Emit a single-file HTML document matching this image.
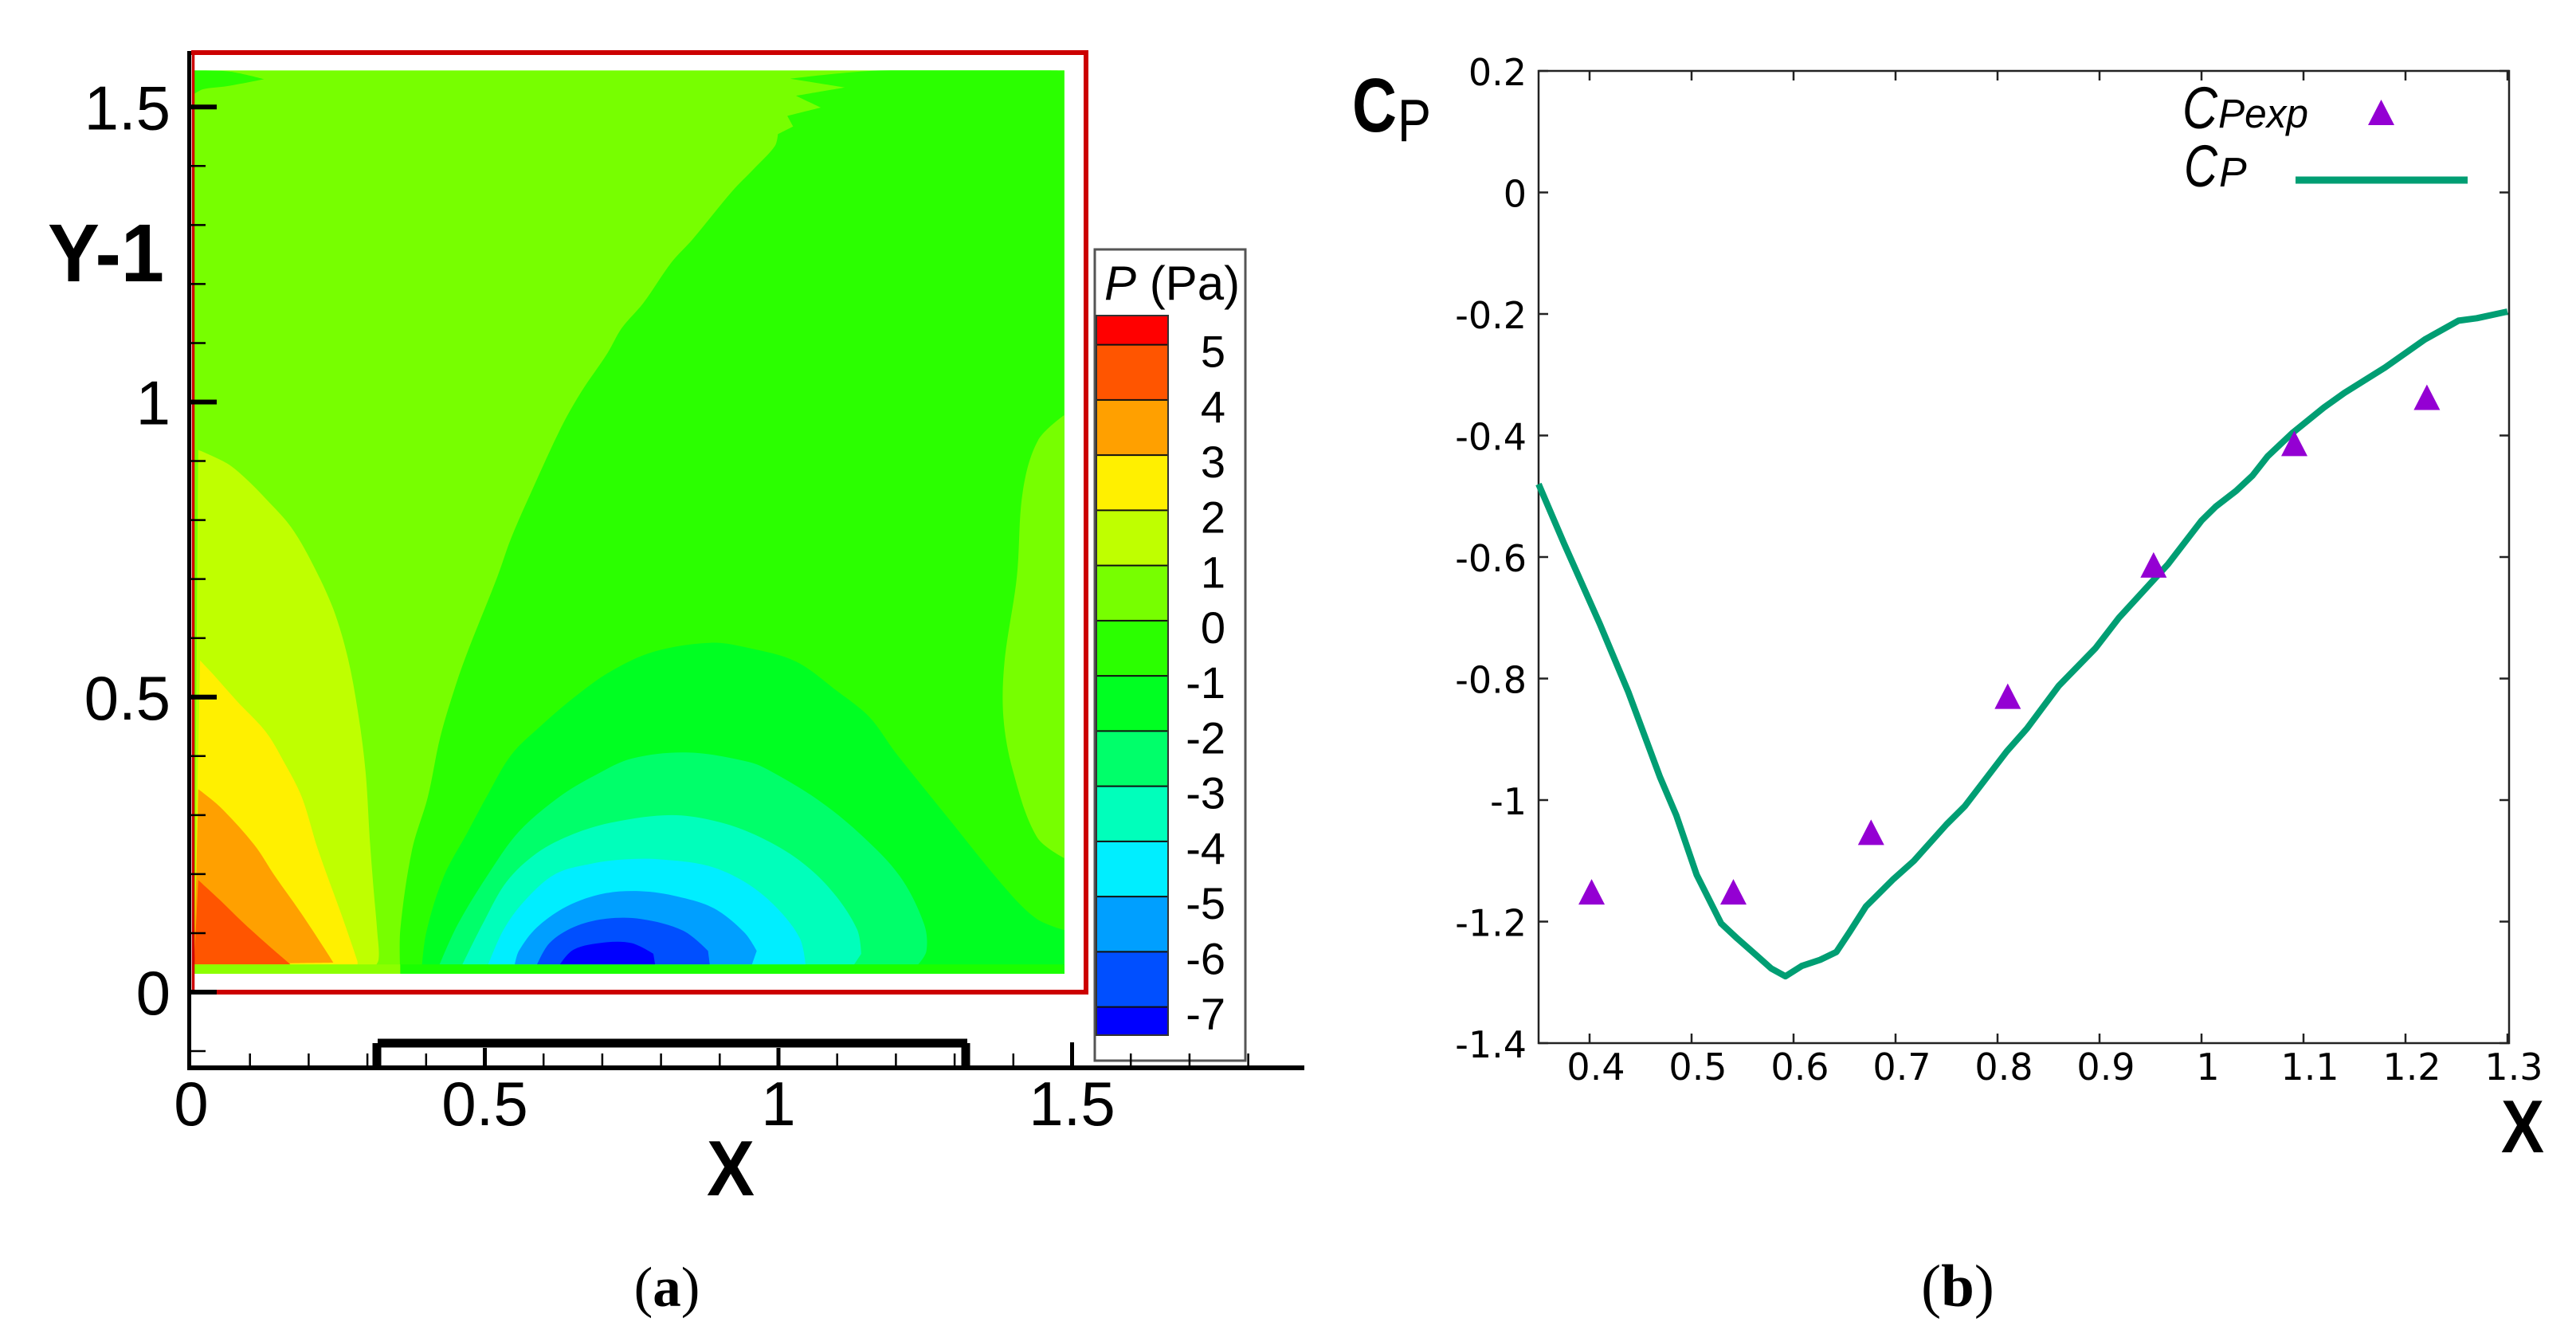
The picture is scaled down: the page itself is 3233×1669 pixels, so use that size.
<!DOCTYPE html>
<html lang="en">
<head>
<meta charset="utf-8">
<title>Pressure contour and pressure coefficient</title>
<style>
html,body{margin:0;padding:0;background:#fff;}
svg{display:block;}
text{font-family:"Liberation Sans",sans-serif;fill:#000;}
</style>
</head>
<body>
<svg id="fig" xmlns="http://www.w3.org/2000/svg" width="3233" height="1669" viewBox="0 0 3233 1669">
<defs><clipPath id="fieldClip"><rect x="243.7" y="88.3" width="1092.2" height="1133.7"/></clipPath></defs>
<rect width="3233" height="1669" fill="#fff"/>
<g id="contours" clip-path="url(#fieldClip)"></g>
<path d="M240 66H1363V1245H240" fill="none" stroke="#cc0000" stroke-width="6"/>
<line x1="242.5" y1="66" x2="242.5" y2="1245" stroke="#cc0000" stroke-width="3.5"/>
<g id="colorbar">
<rect x="1374" y="313" width="189" height="1018" fill="#fff" stroke="#555" stroke-width="3"/>
<text x="1386" y="376" font-size="60"><tspan font-style="italic">P</tspan> (Pa)</text>
</g>
<g id="axesA">
<line x1="237.5" y1="64" x2="237.5" y2="1343" stroke="#000" stroke-width="5"/>
<line x1="235" y1="1340" x2="1637" y2="1340" stroke="#000" stroke-width="6"/>
<path d="M474 1309H1214M473 1309V1340M1212 1309V1340" fill="none" stroke="#000" stroke-width="11"/>
</g>
<text x="60" y="353" font-size="103" font-weight="700" textLength="146" lengthAdjust="spacingAndGlyphs">Y-1</text>
<text x="917" y="1500" font-size="98" font-weight="700" text-anchor="middle" textLength="60" lengthAdjust="spacingAndGlyphs">X</text>
<text x="837" y="1639" font-size="71" text-anchor="middle" style="font-family:'Liberation Serif',serif">(<tspan font-weight="700">a</tspan>)</text>
<g id="axesB"></g>
<g id="seriesB"></g>
<g>
<text x="2739" y="161" font-size="74" font-style="italic" textLength="44" lengthAdjust="spacingAndGlyphs">C</text>
<text x="2784" y="160" font-size="51" font-style="italic" textLength="113" lengthAdjust="spacingAndGlyphs">Pexp</text>
<text x="2741" y="234" font-size="74" font-style="italic" textLength="42" lengthAdjust="spacingAndGlyphs">C</text>
<text x="2785" y="234" font-size="52" font-style="italic">P</text>
<line x1="2881" y1="226" x2="3097" y2="226" stroke="#009e73" stroke-width="9"/>
<polygon points="2972,157 3005,157 2988.5,125" fill="#9400d3"/>
</g>
<text x="1697" y="165" font-size="96" font-weight="700" textLength="56" lengthAdjust="spacingAndGlyphs">C</text>
<text x="1754" y="177" font-size="75" textLength="42" lengthAdjust="spacingAndGlyphs">P</text>
<text x="3166" y="1446" font-size="94" font-weight="700" text-anchor="middle" textLength="54" lengthAdjust="spacingAndGlyphs">X</text>
<text x="2457" y="1639" font-size="75" text-anchor="middle" style="font-family:'Liberation Serif',serif">(<tspan font-weight="700">b</tspan>)</text>
</svg>
<script>
// ---- Panel (a) data, in plot units (X, Y-1) ----
const regionBase = [[.005,.031],[1.487,.031],[1.487,1.562],[.005,1.562]];
const regionMinus1 = [[1.176,1.562],[1.02,1.548],[1.113,1.533],[1.03,1.519],[1.072,1.499],[1.015,1.485],[1.025,1.467],[.999,1.454],[.994,1.434],[.958,1.395],[.921,1.357],[.854,1.276],[.818,1.237],[.770,1.168],[.733,1.125],[.709,1.083],[.664,1.017],[.630,.957],[.582,.854],[.545,.770],[.521,.703],[.473,.583],[.451,.522],[.424,.432],[.403,.331],[.376,.241],[.356,.106],[.356,.031],[1.487,.031],[1.487,1.562]];
const regionCornerPatch = [[.005,1.562],[.065,1.56],[.124,1.547],[.06,1.535],[.02,1.53],[.005,1.522]];
const regionRightLobe = [[1.487,.978],[1.442,.935],[1.416,.848],[1.406,.704],[1.385,.56],[1.383,.466],[1.399,.376],[1.44,.263],[1.487,.227]];
const regionPlus1 = [[.012,.919],[.061,.896],[.091,.872],[.130,.833],[.170,.788],[.206,.727],[.242,.649],[.267,.565],[.285,.468],[.297,.372],[.304,.26],[.31,.18],[.317,.1],[.319,.055],[.309,.038],[.005,.033]];
const regionPlus2 = [[.015,.562],[.036,.540],[.079,.492],[.127,.441],[.158,.39],[.188,.331],[.216,.241],[.257,.128],[.283,.052],[.283,.047],[.005,.047]];
const regionPlus3 = [[.012,.344],[.05,.313],[.107,.25],[.143,.196],[.185,.137],[.226,.075],[.242,.05],[.005,.047]];
const regionPlus4 = [[.012,.19],[.05,.155],[.086,.12],[.127,.083],[.169,.047],[.005,.047]];
const regionMinus2 = [[.392,.031],[.40,.10],[.43,.196],[.47,.27],[.503,.331],[.545,.402],[.594,.45],[.654,.501],[.715,.544],[.788,.577],[.885,.592],[.95,.583],[1.03,.56],[1.10,.51],[1.155,.466],[1.2,.405],[1.285,.30],[1.389,.173],[1.44,.124],[1.487,.105],[1.487,.031]];
const regionMinus3 = [[.423,.047],[.454,.115],[.506,.2],[.558,.272],[.627,.331],[.685,.366],[.751,.396],[.848,.406],[.95,.39],[.984,.376],[1.067,.326],[1.139,.268],[1.207,.196],[1.248,.115],[1.252,.07],[1.238,.047]];
const regionMinus4 = [[.462,.047],[.496,.115],[.537,.187],[.589,.236],[.651,.268],[.719,.288],[.818,.3],[.9,.288],[.968,.263],[1.036,.223],[1.093,.169],[1.134,.106],[1.141,.065],[1.129,.047]];
const regionMinus5 = [[.506,.047],[.532,.106],[.568,.155],[.62,.2],[.683,.218],[.74,.225],[.797,.225],[.88,.214],[.942,.187],[.994,.146],[1.036,.092],[1.046,.047]];
const regionMinus6 = [[.551,.047],[.558,.07],[.589,.11],[.641,.146],[.703,.167],[.766,.171],[.828,.162],[.89,.142],[.942,.101],[.963,.07],[.955,.047]];
const regionMinus7 = [[.589,.047],[.61,.083],[.651,.11],[.703,.124],[.766,.124],[.838,.104],[.88,.07],[.883,.047]];
const regionMinus8 = [[.628,.047],[.651,.072],[.703,.084],[.75,.083],[.787,.065],[.79,.047]];
const wallStripLeft = [[.005,.031],[.356,.031],[.356,.047],[.005,.047]];
const wallStripRight = [[.356,.031],[1.487,.031],[1.487,.047],[.356,.047]];

const xTicksA = [.1,.2,.3,.4,.5,.6,.7,.8,.9,1,1.1,1.2,1.3,1.4,1.5,1.6,1.7,1.8];
const yTicksA = [-.1,0,.1,.2,.3,.4,.5,.6,.7,.8,.9,1,1.1,1.2,1.3,1.4,1.5];
const xLabelsA = [0,.5,1,1.5];
const yLabelsA = [0,.5,1,1.5];

const colorbarLevels = [5,4,3,2,1,0,-1,-2,-3,-4,-5,-6,-7];
const colorbarColors = ['#ff0000','#ff5500','#ffa000','#fff000','#bfff00','#77ff00','#2bff00','#00ff22','#00ff6a','#00ffbb','#00eeff','#009fff','#004fff','#0000ff'];

// ---- Panel (b) data ----
const cpX = [.35,.375,.41,.438,.469,.485,.505,.529,.545,.564,.578,.592,.608,.626,.642,.655,.671,.698,.718,.75,.768,.809,.829,.86,.896,.919,.967,1.0,1.014,1.034,1.05,1.065,1.089,1.12,1.14,1.18,1.219,1.252,1.27,1.3];
const cpY = [-.48,-.578,-.71,-.822,-.962,-1.025,-1.123,-1.203,-1.228,-1.256,-1.277,-1.29,-1.273,-1.263,-1.25,-1.217,-1.175,-1.13,-1.10,-1.04,-1.01,-.92,-.882,-.812,-.75,-.70,-.612,-.54,-.517,-.491,-.466,-.434,-.396,-.354,-.33,-.288,-.242,-.211,-.207,-.196];
const expX = [.402,.541,.676,.81,.953,1.091,1.221];
const expY = [-1.151,-1.151,-1.053,-.829,-.613,-.413,-.337];
const xTicksB = [.4,.5,.6,.7,.8,.9,1,1.1,1.2,1.3];
const yTicksB = [.2,0,-.2,-.4,-.6,-.8,-1,-1.2,-1.4];

// ---- Scales ----
const xA = v => 240 + 737 * v;
const yA = v => 1245 - 740.5 * v;
const levelY = v => 432.6 + (5 - v) * 69.25;
const xB = v => 1995 + (v - .4) * 1280;
const yB = v => 1309 - (v + 1.4) * 762.5;

const SVGNS = 'http://www.w3.org/2000/svg';
function mk(tag, parent, props, text) {
  const el = document.createElementNS(SVGNS, tag);
  for (const k in props) el.setAttribute(k, props[k]);
  if (text !== undefined) el.textContent = text;
  parent.appendChild(el);
  return el;
}
// Closed outline through the points: smooth curves, sharp at real corners
function outline(pts) {
  const n = pts.length;
  const dirs = pts.map(function (p, i) {
    const a = pts[(i + n - 1) % n], b = pts[(i + 1) % n];
    const ux = p[0] - a[0], uy = p[1] - a[1], vx = b[0] - p[0], vy = b[1] - p[1];
    const lu = Math.hypot(ux, uy) || 1, lv = Math.hypot(vx, vy) || 1;
    if ((ux * vx + uy * vy) / (lu * lv) < 0.8) return [0, 0];
    const tx = b[0] - a[0], ty = b[1] - a[1], lt = Math.hypot(tx, ty) || 1;
    return [tx / lt, ty / lt];
  });
  let d = 'M' + pts[0][0].toFixed(1) + ' ' + pts[0][1].toFixed(1);
  for (let i = 0; i < n; i++) {
    const j = (i + 1) % n, len = Math.hypot(pts[j][0] - pts[i][0], pts[j][1] - pts[i][1]) / 3;
    d += 'C' + (pts[i][0] + dirs[i][0] * len).toFixed(1) + ' ' + (pts[i][1] + dirs[i][1] * len).toFixed(1) + ' ' +
      (pts[j][0] - dirs[j][0] * len).toFixed(1) + ' ' + (pts[j][1] - dirs[j][1] * len).toFixed(1) + ' ' +
      pts[j][0].toFixed(1) + ' ' + pts[j][1].toFixed(1);
  }
  return d + 'Z';
}
const contours = document.getElementById('contours');
const colorbar = document.getElementById('colorbar');
const axesA = document.getElementById('axesA');
const axesB = document.getElementById('axesB');
const seriesB = document.getElementById('seriesB');

// Contour layers, painted back to front
const layers = [
  [regionBase,'#77ff00','contour-band-0-to-1'],
  [regionMinus1,'#2bff00','contour-band-minus1-to-0'],
  [regionCornerPatch,'#2bff00','contour-corner-patch'],
  [regionRightLobe,'#77ff00','contour-right-lobe'],
  [regionPlus1,'#bfff00','contour-band-1-to-2'],
  [regionPlus2,'#fff000','contour-band-2-to-3'],
  [regionPlus3,'#ffa000','contour-band-3-to-4'],
  [regionPlus4,'#ff5500','contour-band-4-to-5'],
  [regionMinus2,'#00ff22','contour-band-minus2-to-minus1'],
  [regionMinus3,'#00ff6a','contour-band-minus3-to-minus2'],
  [regionMinus4,'#00ffbb','contour-band-minus4-to-minus3'],
  [regionMinus5,'#00eeff','contour-band-minus5-to-minus4'],
  [regionMinus6,'#009fff','contour-band-minus6-to-minus5'],
  [regionMinus7,'#004fff','contour-band-minus7-to-minus6'],
  [regionMinus8,'#0000ff','contour-band-below-minus7'],
  [wallStripLeft,'#8cff00','wall-strip-left'],
  [wallStripRight,'#1aff00','wall-strip-right']
];
layers.forEach(function (layer) {
  const el = mk('path', contours, {d: outline(layer[0].map(p => [xA(p[0]), yA(p[1])])), fill: layer[1]});
  
  
});

// Panel (a) ticks
xTicksA.forEach(function (v) {
  const major = [.5,1,1.5].some(m => Math.abs(m - v) < 1e-6);
  const el = mk('line', axesA, {x1: xA(v), x2: xA(v), y1: major ? (Math.abs(v - 1.5) < 1e-6 ? 1308 : 1315) : 1322, y2: 1340, stroke: '#000', 'stroke-width': major ? 5 : 2.5});
  
  
});
yTicksA.forEach(function (v) {
  const major = [0,.5,1,1.5].some(m => Math.abs(m - v) < 1e-6);
  const el = mk('line', axesA, {x1: 240, x2: major ? 272 : 258, y1: yA(v), y2: yA(v), stroke: '#000', 'stroke-width': major ? 6 : 2.5});
  
  
});
xLabelsA.forEach(function (v) {
  const el = mk('text', axesA, {x: xA(v), y: 1412, 'font-size': 78, 'text-anchor': 'middle'}, String(v));
  
  
});
yLabelsA.forEach(function (v) {
  const el = mk('text', axesA, {x: 214, y: yA(v) + 28, 'font-size': 78, 'text-anchor': 'end'}, String(v));
  
  
});

// Colorbar: one swatch per band, bounded by the level lines
colorbarColors.forEach(function (c, i) {
  const top = i === 0 ? 397 : levelY(colorbarLevels[i - 1]);
  const bottom = i === colorbarLevels.length ? 1298 : levelY(colorbarLevels[i]);
  const el = mk('rect', colorbar, {x: 1377, y: top, width: 88, height: bottom - top, fill: c});
  
  
});
colorbarLevels.forEach(function (v) {
  const line = mk('line', colorbar, {x1: 1377, x2: 1465, y1: levelY(v), y2: levelY(v), stroke: '#111', 'stroke-width': 2});
  
  
  const label = mk('text', colorbar, {x: 1538, y: levelY(v) + 28, 'font-size': 56, 'text-anchor': 'end'}, String(v));
  
  
});
const barEdge = mk('rect', colorbar, {x: 1376, y: 396, width: 90, height: 903, fill: 'none', stroke: '#333', 'stroke-width': 2});



// Panel (b) axes
xTicksB.forEach(function (v) {
  const bottom = mk('line', axesB, {x1: xB(v), x2: xB(v), y1: 1309, y2: 1297, stroke: '#222', 'stroke-width': 2.5});
  
  
  const top = mk('line', axesB, {x1: xB(v), x2: xB(v), y1: 89, y2: 101, stroke: '#222', 'stroke-width': 2.5});
  
  
  const label = mk('text', axesB, {x: xB(v) + 8, y: 1355, 'font-size': 46, 'text-anchor': 'middle', style: 'font-family:"DejaVu Sans",sans-serif'}, String(v));
  
  
});
yTicksB.forEach(function (v) {
  const left = mk('line', axesB, {x1: 1931, x2: 1943, y1: yB(v), y2: yB(v), stroke: '#222', 'stroke-width': 2.5});
  
  
  const right = mk('line', axesB, {x1: 3149, x2: 3137, y1: yB(v), y2: yB(v), stroke: '#222', 'stroke-width': 2.5});
  
  
  const label = mk('text', axesB, {x: 1916, y: yB(v) + 18, 'font-size': 46, 'text-anchor': 'end', style: 'font-family:"DejaVu Sans",sans-serif'}, String(v));
  
  
});
const boxB = mk('rect', axesB, {x: 1931, y: 89, width: 1218, height: 1220, fill: 'none', stroke: '#222', 'stroke-width': 2.5});



// Panel (b) series
const cpLine = mk('polyline', seriesB, {points: cpX.map((x, i) => xB(x).toFixed(1) + ',' + yB(cpY[i]).toFixed(1)).join(' '), fill: 'none', stroke: '#009e73', 'stroke-width': 8, 'stroke-linejoin': 'round'});


expX.forEach(function (x, i) {
  const cx = xB(x), cy = yB(expY[i]);
  const el = mk('polygon', seriesB, {points: (cx - 16.5) + ',' + (cy + 16) + ' ' + (cx + 16.5) + ',' + (cy + 16) + ' ' + cx + ',' + (cy - 16), fill: '#9400d3'});
  
  
});
</script>
</body>
</html>
